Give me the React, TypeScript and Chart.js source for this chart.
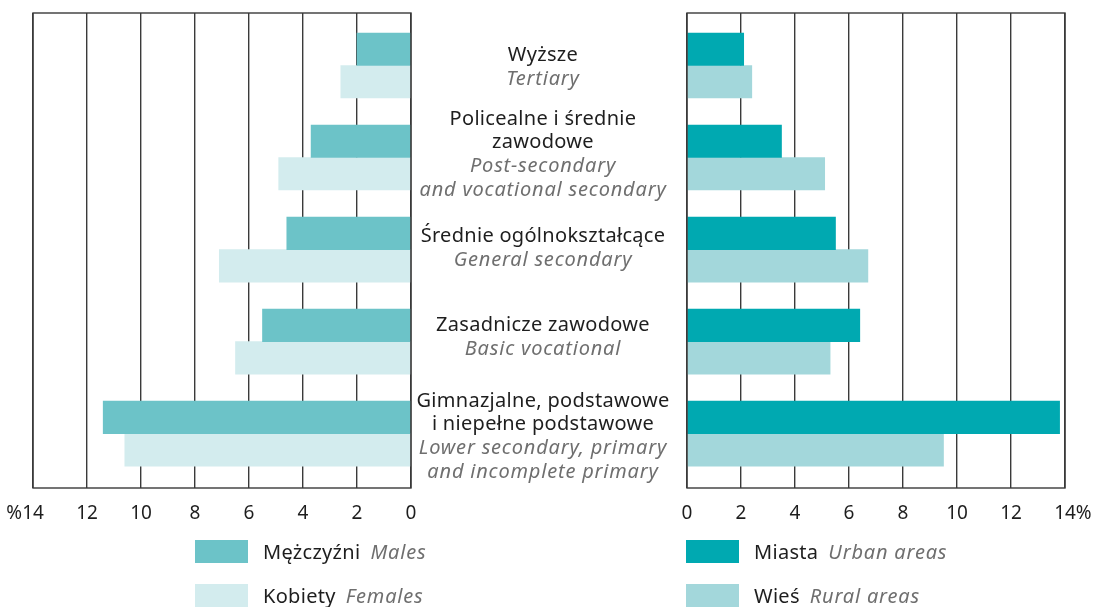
import React, { useEffect, useRef } from "react";
import { Chart, registerables } from "chart.js";

Chart.register(...registerables);

// ---------- data ----------
const categoryIndex = [0, 1, 2, 3, 4];
const categoriesPl = [
  ["Wyższe"],
  ["Policealne i średnie", "zawodowe"],
  ["Średnie ogólnokształcące"],
  ["Zasadnicze zawodowe"],
  ["Gimnazjalne, podstawowe", "i niepełne podstawowe"],
];
const categoriesEn = [
  ["Tertiary"],
  ["Post-secondary", "and vocational secondary"],
  ["General secondary"],
  ["Basic vocational"],
  ["Lower secondary, primary", "and incomplete primary"],
];
const males = [2.0, 3.7, 4.6, 5.5, 11.4];
const females = [2.6, 4.9, 7.1, 6.5, 10.6];
const urban = [2.1, 3.5, 5.5, 6.4, 13.8];
const rural = [2.4, 5.1, 6.7, 5.3, 9.5];
const xTickValues = [0, 2, 4, 6, 8, 10, 12, 14];
const xTickLabels = ["0", "2", "4", "6", "8", "10", "12", "14"];
const percentSign = "%";
const legendLeftPl = ["Mężczyźni", "Kobiety"];
const legendLeftEn = ["Males", "Females"];
const legendRightPl = ["Miasta", "Wieś"];
const legendRightEn = ["Urban areas", "Rural areas"];

// ---------- styles ----------
const W = 1096;
const H = 607;
const FONT = "'Noto Sans', 'DejaVu Sans', sans-serif";
const FS = 20;
const TICK_FS = 19;
const BLACK = "#1e1e1e";
const GRAY = "#6f6f6f";
const GRID = "#3a3a3a";
const C_MALES = "#6cc3c8";
const C_FEMALES = "#d3ecee";
const C_URBAN = "#00a9b1";
const C_RURAL = "#a3d7db";
const LEFT_AREA = { left: 33, right: 411 };
const RIGHT_AREA = { left: 687, right: 1065 };
const TOP = 13;
const BOTTOM = 488;
const LINE_H = 23.8;
const Y_MIN = -0.57;
const Y_MAX = 4.59;
const LABEL_CX = 543;
const LABEL_NUDGE = [1.5, -3, -1.5, -4.5, 3];

function setFont(ctx: any, italic: boolean, size = FS) {
  ctx.font = `${italic ? "italic " : ""}${size}px ${FONT}`;
  try {
    ctx.letterSpacing = italic ? "0.8px" : "0.3px";
  } catch (e) {}
}

function makeChart(
  canvas: HTMLCanvasElement,
  side: "left" | "right",
  dataA: number[],
  dataB: number[],
  colA: string,
  colB: string,
  legPl: string[],
  legEn: string[]
) {
  const area = side === "left" ? LEFT_AREA : RIGHT_AREA;
  const framePlugin = {
    id: "frame_" + side,
    afterDatasetsDraw(chart: any) {
      const ctx = chart.ctx as CanvasRenderingContext2D;
      const a = chart.chartArea;
      ctx.save();
      ctx.strokeStyle = GRID;
      ctx.lineWidth = 1.4;
      ctx.strokeRect(a.left, a.top, a.right - a.left, a.bottom - a.top);
      ctx.restore();
    },
    afterDraw(chart: any) {
      const ctx = chart.ctx as any;
      const xs = chart.scales.x;
      const a = chart.chartArea;
      ctx.save();
      // tick labels
      ctx.font = `${TICK_FS}px ${FONT}`;
      ctx.fillStyle = BLACK;
      ctx.textBaseline = "middle";
      ctx.textAlign = "center";
      const ty = a.bottom + 26;
      xTickValues.forEach((v, i) => {
        const px = xs.getPixelForValue(v);
        ctx.fillText(xTickLabels[i], px, ty);
        if (i === xTickValues.length - 1) {
          const w = ctx.measureText(xTickLabels[i]).width;
          ctx.save();
          if (side === "left") {
            ctx.textAlign = "right";
            ctx.fillText(percentSign, px - w / 2, ty);
          } else {
            ctx.textAlign = "left";
            ctx.fillText(percentSign, px + w / 2, ty);
          }
          ctx.restore();
        }
      });
      // legend
      const lx = side === "left" ? xs.getPixelForValue(8) : a.left - 1;
      const rows = [a.bottom + 52, a.bottom + 96];
      const cols = [colA, colB];
      ctx.textAlign = "left";
      rows.forEach((y0, i) => {
        ctx.fillStyle = cols[i];
        ctx.fillRect(lx, y0, 53, 23);
        const tx = lx + 53 + 15;
        setFont(ctx, false);
        ctx.fillStyle = BLACK;
        ctx.fillText(legPl[i], tx, y0 + 13);
        const w = ctx.measureText(legPl[i]).width;
        setFont(ctx, true);
        ctx.fillStyle = GRAY;
        ctx.fillText(legEn[i], tx + w + 10, y0 + 13);
      });
      // category labels (middle), drawn by left chart
      if (side === "left") {
        const ys = chart.scales.y;
        ctx.textAlign = "center";
        categoryIndex.forEach((ci) => {
          const lines = [
            ...categoriesPl[ci].map((t) => ({ t, it: false })),
            ...categoriesEn[ci].map((t) => ({ t, it: true })),
          ];
          const c = ys.getPixelForValue(ci) + LABEL_NUDGE[ci];
          const start = c - ((lines.length - 1) * LINE_H) / 2;
          lines.forEach((l, j) => {
            setFont(ctx, l.it);
            ctx.fillStyle = l.it ? GRAY : BLACK;
            ctx.fillText(l.t, LABEL_CX, start + j * LINE_H);
          });
        });
      }
      ctx.restore();
    },
  };

  return new Chart(canvas, {
    type: "bar",
    data: {
      datasets: [
        {
          data: categoryIndex.map((i) => ({ x: dataA[i], y: i })),
          backgroundColor: colA,
          borderWidth: 0,
          barThickness: 32.5,
        },
        {
          data: categoryIndex.map((i) => ({ x: dataB[i], y: i })),
          backgroundColor: colB,
          borderWidth: 0,
          barThickness: 32.5,
        },
      ],
    } as any,
    options: {
      indexAxis: "y",
      responsive: false,
      animation: false,
      events: [],
      layout: {
        padding: {
          left: area.left,
          right: W - area.right,
          top: TOP,
          bottom: 0,
        },
      },
      plugins: { legend: { display: false }, tooltip: { enabled: false } },
      scales: {
        x: {
          type: "linear",
          min: 0,
          max: 14,
          reverse: side === "left",
          ticks: { stepSize: 2, display: false },
          grid: { color: GRID, lineWidth: 1.4, drawTicks: false },
          border: { display: false },
          afterFit: (s: any) => {
            s.height = H - BOTTOM;
          },
        },
        y: {
          type: "linear",
          min: Y_MIN,
          max: Y_MAX,
          bounds: "data",
          offset: false,
          grace: 0,
          reverse: true,
          display: false,
          afterBuildTicks: (s: any) => {
            s.min = Y_MIN;
            s.max = Y_MAX;
          },
        },
      },
    } as any,
    plugins: [framePlugin],
  });
}

export default function App() {
  const leftRef = useRef<HTMLCanvasElement>(null);
  const rightRef = useRef<HTMLCanvasElement>(null);
  useEffect(() => {
    const l = makeChart(leftRef.current!, "left", males, females, C_MALES, C_FEMALES, legendLeftPl, legendLeftEn);
    const r = makeChart(rightRef.current!, "right", urban, rural, C_URBAN, C_RURAL, legendRightPl, legendRightEn);
    return () => {
      l.destroy();
      r.destroy();
    };
  }, []);
  const cs: React.CSSProperties = { position: "absolute", left: 0, top: 0, width: W, height: H };
  return (
    <div style={{ position: "fixed", left: 0, top: 0, width: W, height: H, background: "#fff", overflow: "hidden" }}>
      <canvas ref={leftRef} width={W} height={H} style={cs} />
      <canvas ref={rightRef} width={W} height={H} style={cs} />
    </div>
  );
}
